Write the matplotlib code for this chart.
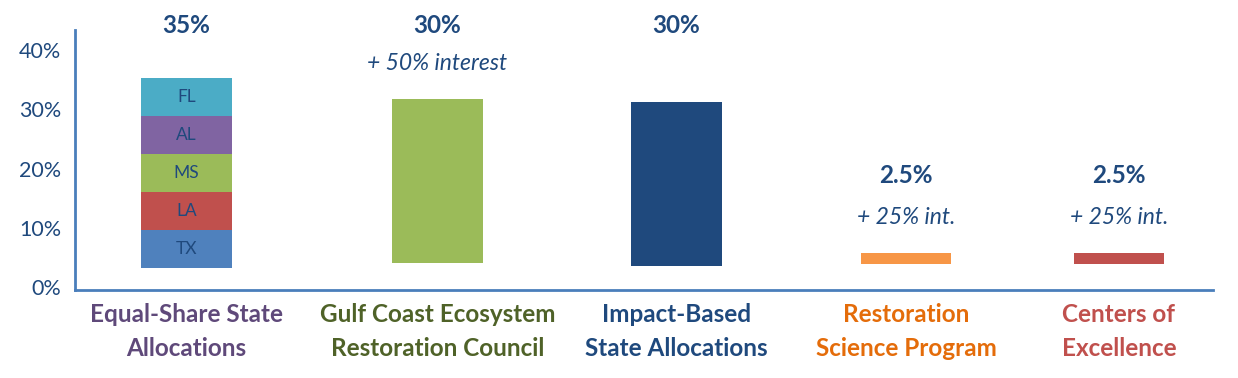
import matplotlib
matplotlib.use('Agg')
import matplotlib.pyplot as plt

plt.rcParams['font.family'] = ['Lato', 'DejaVu Sans']

# 数据
categories = ['Equal-Share State\nAllocations', 'Gulf Coast Ecosystem\nRestoration Council',
              'Impact-Based\nState Allocations', 'Restoration\nScience Program',
              'Centers of\nExcellence']
value_labels = ['35%', '30%', '30%', '2.5%', '2.5%']
interest_labels = ['', '+ 50% interest', '', '+ 25% int.', '+ 25% int.']

states = ['TX', 'LA', 'MS', 'AL', 'FL']
state_shares = [6.4, 6.4, 6.4, 6.4, 6.4]
stack_base = 3.25

# 其它柱子（浮动底部）
bar_bottoms = [4.1, 3.6, 3.9, 3.9]
bar_tops = [31.75, 31.25, 5.8, 5.8]

yticks = [0, 10, 20, 30, 40]

# 样式/布局
state_colors = ['#4F81BD', '#C0504D', '#9BBB59', '#8064A2', '#4BACC6']
bar_colors = ['#9BBB59', '#1F497D', '#F79646', '#C0504D']
cat_colors = ['#5F497A', '#4F6228', '#1F497D', '#E46C0A', '#C0504D']
text_color = '#1F497D'
axis_color = '#4A7EBB'
x_pos = [0, 1.077, 2.103, 3.088, 4.002]
bar_w = 0.39
value_y = [44.2, 44.2, 44.2, 18.8, 18.8]
interest_y = [None, 37.8, None, 11.85, 11.85]

fig = plt.figure(figsize=(12.38, 3.78), dpi=100)
ax = fig.add_axes([75 / 1238, 88 / 378, 1138 / 1238, 260 / 378])

# 堆叠柱
bottom = stack_base
for s, v, c in zip(states, state_shares, state_colors):
    ax.bar(x_pos[0], v, bottom=bottom, width=bar_w, color=c, linewidth=0)
    ax.text(x_pos[0], bottom + v / 2, s, ha='center', va='center',
            fontsize=12.5, color=text_color)
    bottom += v

# 其它柱
for x, b, t, c in zip(x_pos[1:], bar_bottoms, bar_tops, bar_colors):
    ax.bar(x, t - b, bottom=b, width=bar_w, color=c, linewidth=0)

# 数值标签
for x, lab, y in zip(x_pos, value_labels, value_y):
    ax.text(x, y, lab, ha='center', va='center', fontsize=17.5, fontweight='bold',
            color=text_color, clip_on=False)
for x, lab, y in zip(x_pos, interest_labels, interest_y):
    if lab:
        ax.text(x, y, lab, ha='center', va='center', fontsize=16.5, style='italic',
                color=text_color, clip_on=False)

ax.set_xlim(-0.4785, 4.4056)
ax.set_ylim(-0.45, 43.4)
ax.set_yticks(yticks)
ax.set_yticklabels([f'{t}%' for t in yticks], fontsize=15.5, color=text_color)
ax.set_xticks(x_pos)
ax.set_xticklabels(categories, fontsize=17.5, fontweight='bold', linespacing=1.6)
for lbl, c in zip(ax.get_xticklabels(), cat_colors):
    lbl.set_color(c)
ax.tick_params(axis='both', length=0)
ax.tick_params(axis='y', pad=10)
ax.tick_params(axis='x', pad=9)

for side in ['top', 'right']:
    ax.spines[side].set_visible(False)
for side in ['left', 'bottom']:
    ax.spines[side].set_color(axis_color)
    ax.spines[side].set_linewidth(2)

fig.savefig('out.png', dpi=100, facecolor='white')
